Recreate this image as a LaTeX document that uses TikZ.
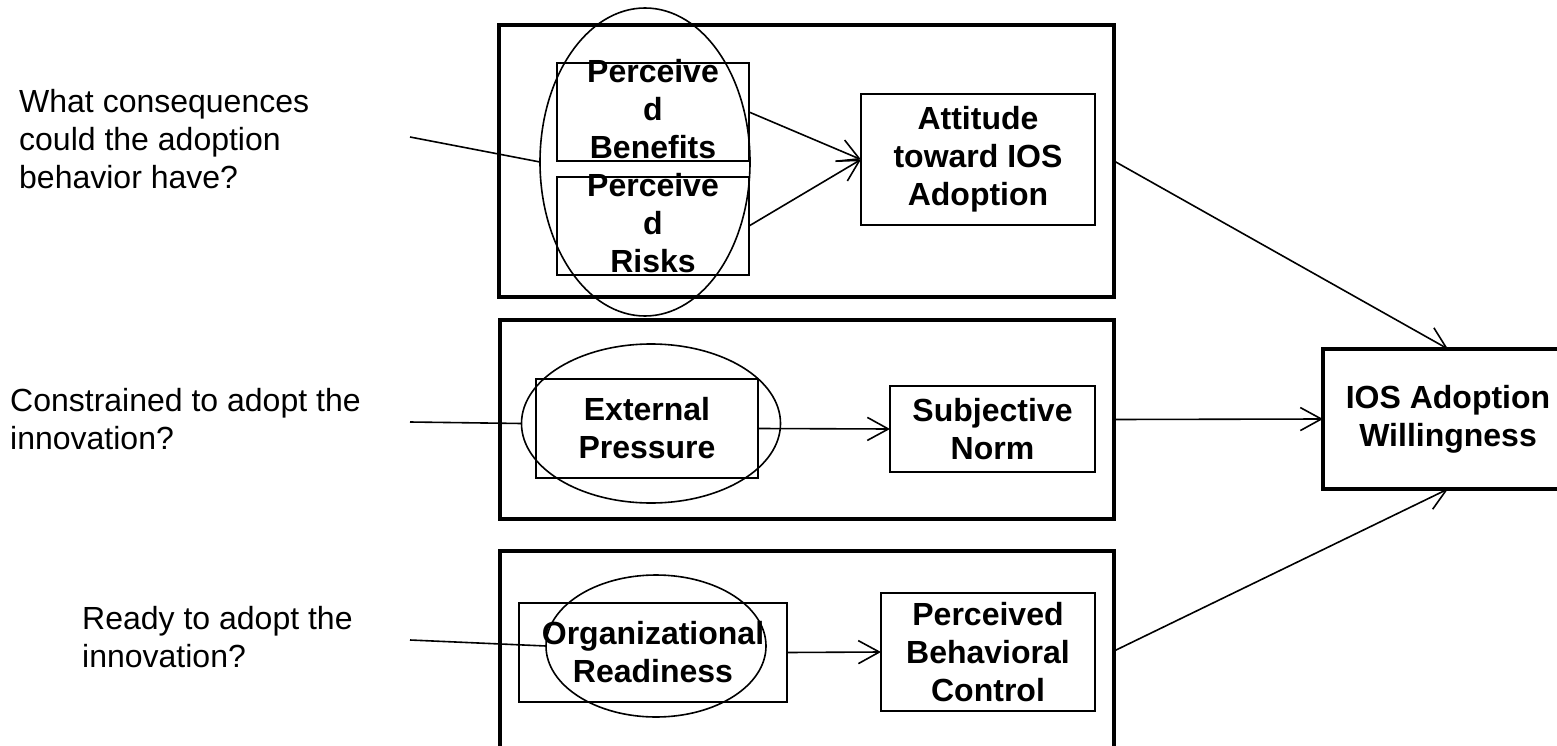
\documentclass[tikz,border=0pt]{standalone}
\usepackage{fontspec}
\setmainfont{Liberation Sans}
\usetikzlibrary{arrows.meta,shapes.geometric}
\begin{document}
\begin{tikzpicture}[x=1pt,y=-1pt,
  container/.style={draw, line width=4pt, inner sep=0pt, outer sep=0pt},
  ibox/.style={draw, line width=1.8pt, inner sep=0pt, outer sep=0pt, align=center, font=\fontsize{32}{38}\selectfont\bfseries},
  btxt/.style={inner sep=0pt, align=center, font=\fontsize{32}{38}\selectfont\bfseries},
  qtxt/.style={inner sep=0pt, align=left, anchor=west, font=\fontsize{32}{38}\selectfont},
  oval/.style={draw, ellipse, line width=1.6pt, inner sep=0pt, outer sep=0pt},
  conn/.style={line width=1.6pt},
  arr/.style={line width=1.6pt, -{Straight Barb[length=21pt,width=23pt]}},
]
\clip (0,0) rectangle (1557,746);

% containers
\node[container, minimum width=615pt, minimum height=272pt] (topC) at (806.5,161) {};
\node[container, minimum width=614pt, minimum height=199pt] (midC) at (807,419.5) {};
\node[container, minimum width=614pt, minimum height=200pt] (botC) at (807,651) {};
\node[container, line width=3.5pt, minimum width=250pt, minimum height=140pt, align=center, font=\fontsize{32}{38}\selectfont\bfseries] (ios) at (1448,419) {IOS Adoption\\Willingness};

% inner boxes
\node[ibox, minimum width=192pt, minimum height=98pt] (ben) at (653,112) {};
\node[ibox, minimum width=192pt, minimum height=98pt] (risk) at (653,226) {};
\node[btxt] (benT) at (653,109.5) {Perceive\\d\\Benefits};
\node[btxt] (riskT) at (653,223.5) {Perceive\\d\\Risks};
\node[ibox, minimum width=234pt, minimum height=131pt] (att) at (978,159.5) {Attitude\\toward IOS\\Adoption};
\node[ibox, minimum width=222pt, minimum height=99pt] (ext) at (647,428.5) {External\\Pressure};
\node[ibox, minimum width=205pt, minimum height=86pt] (subj) at (992.5,429) {Subjective\\Norm};
\node[ibox, minimum width=268pt, minimum height=99pt] (org) at (653,652.5) {Organizational\\Readiness};
\node[ibox, minimum width=214pt, minimum height=118pt] (pbc) at (988,652) {Perceived\\Behavioral\\Control};

% ellipses
\node[oval, minimum width=210pt, minimum height=308pt] (ellB) at (645,162) {};
\node[oval, minimum width=259pt, minimum height=159pt] (ellE) at (651,423.5) {};
\node[oval, minimum width=220pt, minimum height=142pt] (ellO) at (656,646) {};

% questions
\node[qtxt] (q1) at (19,139) {What consequences\\could the adoption\\behavior have?};
\node[qtxt] (q2) at (10,419.5) {Constrained to adopt the\\innovation?};
\node[qtxt] (q3) at (82,637.5) {Ready to adopt the\\innovation?};

\coordinate (s1) at (410,137);
\coordinate (s2) at (410,422);
\coordinate (s3) at (410,640);

\draw[conn] (s1) -- (ellB.west);
\draw[conn] (s2) -- (ellE.west);
\draw[conn] (s3) -- (ellO.west);

% connectors
\draw[arr] (ben.east) -- (att.west);
\draw[arr] (risk.east) -- (att.west);
\draw[arr] (ext.east) -- (subj.west);
\draw[arr] (org.east) -- (pbc.west);
\draw[arr] (topC.east) -- (ios.north);
\draw[arr] (midC.east) -- (ios.west);
\draw[arr] (botC.east) -- (ios.south);
\end{tikzpicture}
\end{document}
